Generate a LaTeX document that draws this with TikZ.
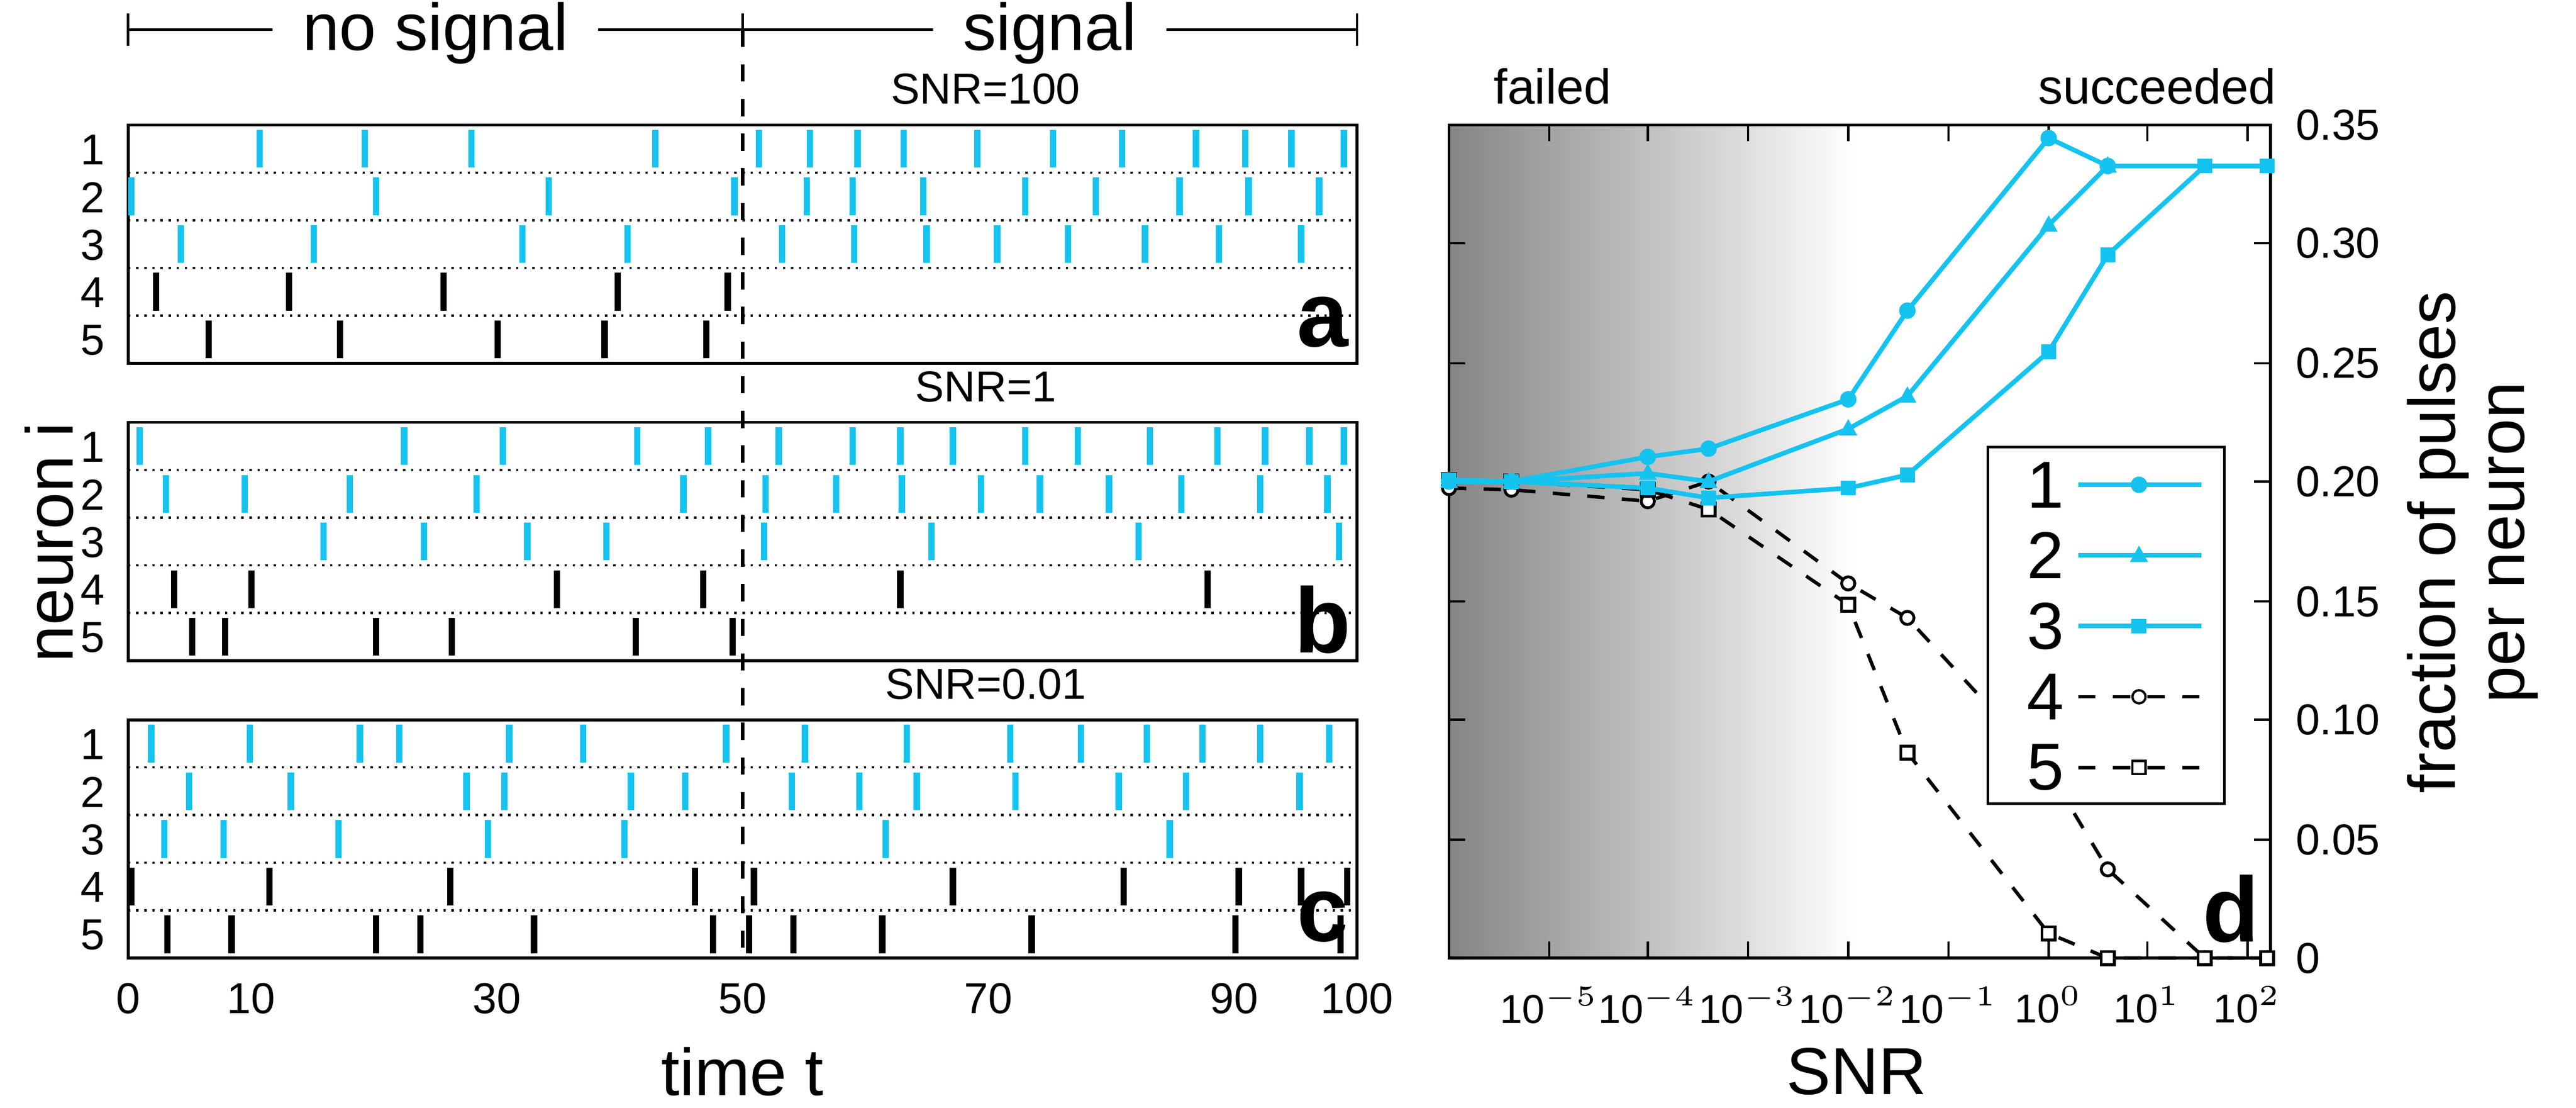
\documentclass[tikz,border=0pt]{standalone}
\usepackage{fontspec}
\setmainfont{Liberation Sans}
\usetikzlibrary{positioning}
\definecolor{spikecyan}{RGB}{20,195,240}
\tikzset{
  cyanline/.style={draw=spikecyan, line width=1.1pt},
  blackline/.style={draw=black, line width=1.1pt},
  rowsep/.style={densely dotted, line width=0.4pt},
  plotcyan/.style={draw=spikecyan, line width=0.8pt},
  plotdash/.style={draw=black, dashed, line width=0.6pt},
  ticklab/.style={font=\fontsize{7.5}{8}\selectfont},
  biglab/.style={font=\fontsize{11.5}{12}\selectfont},
  panellab/.style={font=\fontsize{16}{16}\selectfont\bfseries}
}
\begin{document}
\begin{tikzpicture}[x=0.1mm,y=-0.1mm]
    \useasboundingbox (0,0) rectangle (1568,674);
    % header brackets
    \draw (78,8) -- (78,28); \draw (452,8) -- (452,28); \draw (826,8) -- (826,28);
    \node[biglab, inner sep=1pt] (nosig) at (265,20) {no signal};
    \node[biglab, inner sep=1pt] (sig) at (639,20) {signal};
    \draw (78,18) -- ([xshift=-4pt]nosig.west |- 0,18); \draw ([xshift=4pt]nosig.east |- 0,18) -- (452,18);
    \draw (452,18) -- ([xshift=-4pt]sig.west |- 0,18); \draw ([xshift=4pt]sig.east |- 0,18) -- (826,18);

    % raster panels
    \foreach \top/\lab/\snr in {76/a/100, 257/b/1, 438/c/0.01}{
      \draw[line width=0.5pt] (78,\top) rectangle (826,\top+145);
      \foreach \r in {1,...,4} \draw[rowsep] (78,\top+29*\r) -- (826,\top+29*\r);
      \foreach \r in {1,...,5} \node[ticklab, left] at (76,\top+29*\r-14) {\r};
      \node[font=\fontsize{7.5}{8}\selectfont, above] at (600,\top) {SNR=\snr};
      \node[panellab] at (805,\top+120) {\lab};
    }

    % panel a spikes (pixel positions)
    \foreach \x in {158,222,287,399,462,493,522,550,595,641,683,728,758,786,818} \draw[cyanline] (\x,79) -- (\x,102);
    \foreach \x in {80,229,334,447,491,519,562,624,667,718,760,803} \draw[cyanline] (\x,108) -- (\x,131);
    \foreach \x in {110,191,318,382,476,520,564,607,650,697,742,792} \draw[cyanline] (\x,137) -- (\x,160);
    \foreach \x in {95,176,270,376,443} \draw[blackline] (\x,166) -- (\x,189);
    \foreach \x in {127,207,303,368,430} \draw[blackline] (\x,195) -- (\x,218);

    % panel b spikes
    \foreach \x in {85,246,306,388,431,474,519,548,580,624,656,700,741,770,797,818} \draw[cyanline] (\x,260) -- (\x,283);
    \foreach \x in {101,149,213,290,416,466,509,549,597,633,675,719,767,808} \draw[cyanline] (\x,289) -- (\x,312);
    \foreach \x in {197,258,321,369,465,567,693,815} \draw[cyanline] (\x,318) -- (\x,341);
    \foreach \x in {106,153,339,428,548,735} \draw[blackline] (\x,347) -- (\x,370);
    \foreach \x in {117,137,229,275,387,446} \draw[blackline] (\x,376) -- (\x,399);

    % panel c spikes
    \foreach \x in {92,152,219,243,310,355,442,490,552,615,658,698,732,767,809} \draw[cyanline] (\x,441) -- (\x,464);
    \foreach \x in {115,177,284,307,384,417,482,523,558,618,681,722,791} \draw[cyanline] (\x,470) -- (\x,493);
    \foreach \x in {100,136,206,297,380,539,712} \draw[cyanline] (\x,499) -- (\x,522);
    \foreach \x in {80,164,274,423,459,580,684,754,792,820} \draw[blackline] (\x,528) -- (\x,551);
    \foreach \x in {102,141,229,256,325,434,456,483,537,628,752,816} \draw[blackline] (\x,557) -- (\x,580);

    % signal onset
    \draw[dashed, line width=0.6pt] (452,18) -- (452,583);

    % time axis
    \foreach \t in {0,10,30,50,70,90,100}
      \node[ticklab, below] at ({78+7.48*\t},586) {\t};
    \node[biglab] (tlab) at (452,652) {time t};
    \node[biglab, rotate=90] (nlab) at (30,330) {neuron i};

    % panel d
    \shade[left color=black!48, right color=white] (882,76) rectangle (1130,583);
    \draw[line width=0.5pt] (882,76) rectangle (1382,583);
    \foreach \v/\y in {0/583,0.05/511,0.10/438,0.15/366,0.20/293,0.25/221,0.30/148,0.35/76}{
      \draw (1382,\y) -- (1372,\y); \draw (882,\y) -- (892,\y);
      \node[ticklab, right] at (1385,\y) {\v};
    }
    \foreach \e/\x in {-5/943,-4/1003,-3/1064,-2/1125,-1/1186,0/1247,1/1307,2/1368}{
      \draw (\x,583) -- (\x,573); \draw (\x,76) -- (\x,86);
      \node[font=\fontsize{7}{8}\selectfont, below] at (\x,588) {10$^{\scriptscriptstyle\e}$};
    }
    \node[font=\fontsize{8.5}{9}\selectfont, above] at (945,76) {failed};
    \node[font=\fontsize{8.5}{9}\selectfont, above] at (1313,76) {succeeded};
    \node[biglab] (snrlab) at (1130,652) {SNR};
    \node[biglab, rotate=90, align=center] (flab) at (1505,330) {fraction of pulses\\per neuron};
    \node[panellab] at (1358,553) {d};

    % curves
    \draw[plotdash] (882,297) -- (920,298) -- (1003,305) -- (1040,293) -- (1125,355) -- (1161,376) -- (1247,469) -- (1283,529) -- (1342,583) -- (1380,583);
    \foreach \x/\y in {882/297,920/298,1003/305,1040/293,1125/355,1161/376,1247/469,1283/529,1342/583,1380/583}
      \draw[fill=white, line width=0.5pt] (\x,\y) circle (4);
    \draw[plotdash] (882,292) -- (920,293) -- (1003,298) -- (1040,310) -- (1125,368) -- (1161,458) -- (1247,568) -- (1283,583) -- (1342,583) -- (1380,583);
    \foreach \x/\y in {882/292,920/293,1003/298,1040/310,1125/368,1161/458,1247/568,1283/583,1342/583,1380/583}
      \draw[fill=white, line width=0.5pt] (\x-4,\y-4) rectangle (\x+4,\y+4);
    \draw[plotcyan] (882,293) -- (920,293) -- (1003,278) -- (1040,273) -- (1125,243) -- (1161,189) -- (1247,84) -- (1283,101) -- (1342,101) -- (1380,101);
    \foreach \x/\y in {882/293,920/293,1003/278,1040/273,1125/243,1161/189,1247/84,1283/101}
      \fill[spikecyan] (\x,\y) circle (5);
    \draw[plotcyan] (882,293) -- (920,293) -- (1003,288) -- (1040,293) -- (1125,261) -- (1161,241) -- (1247,137) -- (1283,101);
    \foreach \x/\y in {882/293,920/293,1003/288,1040/293,1125/261,1161/241,1247/137,1283/101}
      \fill[spikecyan] (\x,\y-6) -- (\x+5.5,\y+4) -- (\x-5.5,\y+4) -- cycle;
    \draw[plotcyan] (882,292) -- (920,293) -- (1003,297) -- (1040,303) -- (1125,297) -- (1161,289) -- (1247,214) -- (1283,155) -- (1342,101) -- (1380,101);
    \foreach \x/\y in {882/292,920/293,1003/297,1040/303,1125/297,1161/289,1247/214,1283/155,1342/101,1380/101}
      \fill[spikecyan] (\x-4.5,\y-4.5) rectangle (\x+4.5,\y+4.5);

    % legend
    \draw[fill=white, line width=0.5pt] (1210,272) rectangle (1354,489);
    \foreach \n/\y in {1/295,2/338,3/381,4/424,5/467}
      \node[biglab] at (1245,\y) {\n};
    \draw[plotcyan] (1265,295) -- (1340,295); \fill[spikecyan] (1302,295) circle (5);
    \draw[plotcyan] (1265,338) -- (1340,338); \fill[spikecyan] (1302,332) -- (1307.5,342) -- (1296.5,342) -- cycle;
    \draw[plotcyan] (1265,381) -- (1340,381); \fill[spikecyan] (1297.5,376.5) rectangle (1306.5,385.5);
    \draw[plotdash] (1265,424) -- (1340,424); \draw[fill=white] (1302,424) circle (4);
    \draw[plotdash] (1265,467) -- (1340,467); \draw[fill=white] (1298,463) rectangle (1306,471);
\end{tikzpicture}
\end{document}
